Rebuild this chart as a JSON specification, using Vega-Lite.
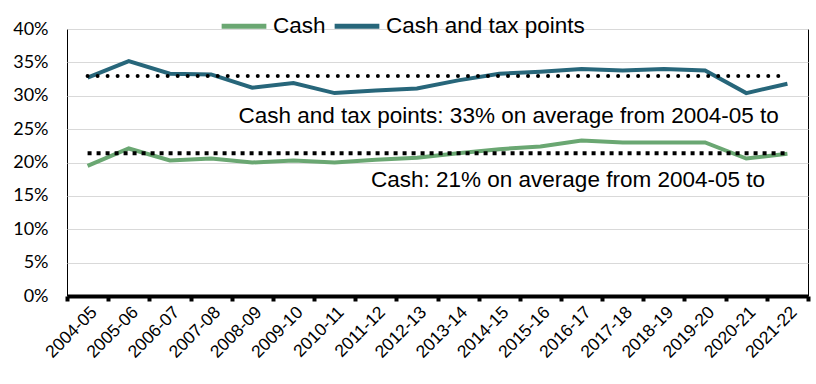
{
  "$schema": "https://vega.github.io/schema/vega-lite/v6.json",
  "width": 741,
  "height": 267,
  "autosize": {"type": "none"},
  "padding": {"left": 67, "top": 29, "right": 8, "bottom": 88},
  "config": {"view": {"stroke": "black", "strokeWidth": 1}, "font": "Liberation Sans"},
  "datasets": {
    "series": [
      {"year": "2004-05", "series": "Cash", "value": 0.195},
      {"year": "2005-06", "series": "Cash", "value": 0.221},
      {"year": "2006-07", "series": "Cash", "value": 0.203},
      {"year": "2007-08", "series": "Cash", "value": 0.206},
      {"year": "2008-09", "series": "Cash", "value": 0.200},
      {"year": "2009-10", "series": "Cash", "value": 0.203},
      {"year": "2010-11", "series": "Cash", "value": 0.200},
      {"year": "2011-12", "series": "Cash", "value": 0.204},
      {"year": "2012-13", "series": "Cash", "value": 0.207},
      {"year": "2013-14", "series": "Cash", "value": 0.214},
      {"year": "2014-15", "series": "Cash", "value": 0.220},
      {"year": "2015-16", "series": "Cash", "value": 0.224},
      {"year": "2016-17", "series": "Cash", "value": 0.233},
      {"year": "2017-18", "series": "Cash", "value": 0.230},
      {"year": "2018-19", "series": "Cash", "value": 0.230},
      {"year": "2019-20", "series": "Cash", "value": 0.230},
      {"year": "2020-21", "series": "Cash", "value": 0.206},
      {"year": "2021-22", "series": "Cash", "value": 0.213},
      {"year": "2004-05", "series": "Cash and tax points", "value": 0.327},
      {"year": "2005-06", "series": "Cash and tax points", "value": 0.352},
      {"year": "2006-07", "series": "Cash and tax points", "value": 0.333},
      {"year": "2007-08", "series": "Cash and tax points", "value": 0.332},
      {"year": "2008-09", "series": "Cash and tax points", "value": 0.312},
      {"year": "2009-10", "series": "Cash and tax points", "value": 0.319},
      {"year": "2010-11", "series": "Cash and tax points", "value": 0.304},
      {"year": "2011-12", "series": "Cash and tax points", "value": 0.308},
      {"year": "2012-13", "series": "Cash and tax points", "value": 0.311},
      {"year": "2013-14", "series": "Cash and tax points", "value": 0.323},
      {"year": "2014-15", "series": "Cash and tax points", "value": 0.333},
      {"year": "2015-16", "series": "Cash and tax points", "value": 0.336},
      {"year": "2016-17", "series": "Cash and tax points", "value": 0.340},
      {"year": "2017-18", "series": "Cash and tax points", "value": 0.338},
      {"year": "2018-19", "series": "Cash and tax points", "value": 0.340},
      {"year": "2019-20", "series": "Cash and tax points", "value": 0.338},
      {"year": "2020-21", "series": "Cash and tax points", "value": 0.304},
      {"year": "2021-22", "series": "Cash and tax points", "value": 0.318}
    ],
    "avg": [
      {"year": "2004-05", "series": "Cash", "value": 0.214},
      {"year": "2021-22", "series": "Cash", "value": 0.214},
      {"year": "2004-05", "series": "Cash and tax points", "value": 0.3296},
      {"year": "2021-22", "series": "Cash and tax points", "value": 0.3296}
    ],
    "notes": [
      {"year": "2014-15", "value": 0.270, "label": "Cash and tax points: 33% on average from 2004-05 to", "shift": 30},
      {"year": "2016-17", "value": 0.174, "label": "Cash: 21% on average from 2004-05 to", "shift": 7}
    ]
  },
  "encoding": {
    "x": {
      "field": "year", "type": "ordinal",
      "scale": {"type": "band", "paddingInner": 0, "paddingOuter": 0},
      "axis": {
        "title": null, "labelAngle": -45, "labelAlign": "right", "labelBaseline": "top",
        "labelFontSize": 17.5, "labelFont": "Liberation Sans", "labelColor": "black",
        "tickBand": "extent", "domainColor": "black", "domainWidth": 4,
        "tickColor": "black", "tickWidth": 4, "tickSize": 5, "labelPadding": 2
      }
    },
    "y": {
      "field": "value", "type": "quantitative",
      "scale": {"domain": [0, 0.4]},
      "axis": {
        "title": null, "format": ".0%", "values": [0, 0.05, 0.1, 0.15, 0.2, 0.25, 0.3, 0.35, 0.4],
        "domain": false, "ticks": false, "labelPadding": 19, "labelFontSize": 18,
        "labelFont": "Lato", "labelColor": "black", "gridColor": "#d9d9d9", "gridWidth": 1
      }
    }
  },
  "layer": [
    {
      "data": {"name": "series"},
      "mark": {"type": "line", "strokeWidth": 4},
      "encoding": {
        "color": {
          "field": "series", "type": "nominal",
          "scale": {"domain": ["Cash", "Cash and tax points"], "range": ["#6aa772", "#27667a"]},
          "legend": {
            "title": null, "orient": "none", "legendX": 152, "legendY": -28,
            "direction": "horizontal", "symbolType": "stroke", "symbolSize": 2000,
            "symbolStrokeWidth": 5, "labelFontSize": 22.5, "labelFont": "Liberation Sans",
            "labelColor": "black", "columnPadding": -2, "labelOffset": 4, "labelLimit": 0
          }
        }
      }
    },
    {
      "data": {"name": "avg"},
      "transform": [{"filter": "datum.series === 'Cash'"}],
      "mark": {"type": "line", "strokeWidth": 4, "color": "black", "strokeDash": [4, 5]},
      "encoding": {}
    },
    {
      "data": {"name": "avg"},
      "transform": [{"filter": "datum.series === 'Cash and tax points'"}],
      "mark": {"type": "line", "strokeWidth": 4, "color": "black", "strokeDash": [0.01, 10], "strokeCap": "round"},
      "encoding": {}
    },
    {
      "data": {"name": "notes"},
      "mark": {"type": "text", "fontSize": 22.5, "font": "Liberation Sans", "color": "black"},
      "encoding": {
        "text": {"field": "label"},
        "xOffset": {"field": "shift", "type": "quantitative", "scale": null}
      }
    }
  ]
}
